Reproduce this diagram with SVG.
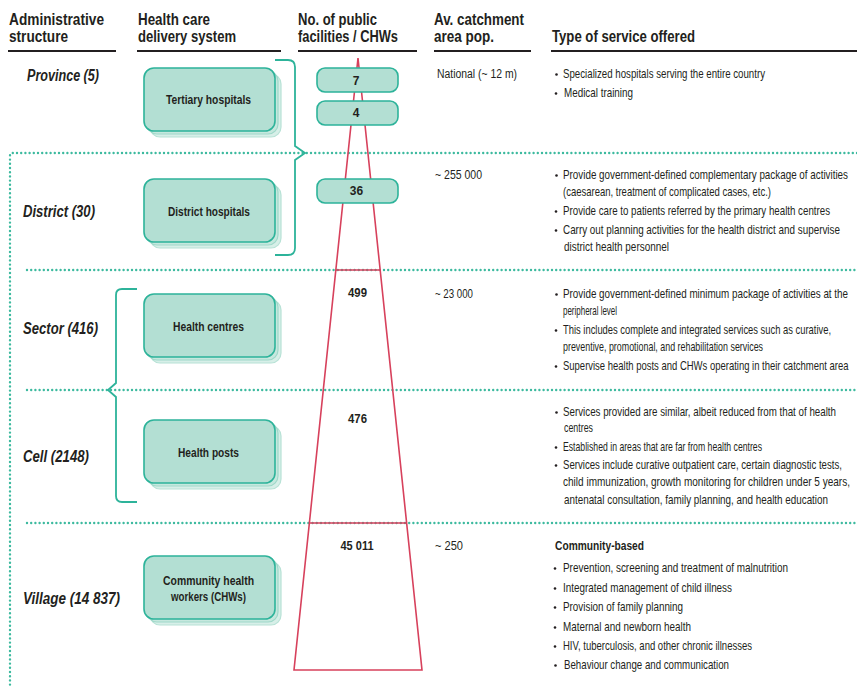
<svg xmlns="http://www.w3.org/2000/svg" width="857" height="686" viewBox="0 0 857 686">
<defs>
<style>
text{font-family:"Liberation Sans Narrow","Liberation Sans",Arial,sans-serif;fill:#231f20}
.h{font-size:16px;font-weight:bold}
.row{font-size:16px;font-weight:bold;font-style:italic}
.bl{font-size:12px;font-weight:bold;text-anchor:middle}
.num{font-size:12px;font-weight:bold;text-anchor:middle}
.t{font-size:12px}
.tb{font-size:12px;font-weight:bold}
.ul{stroke:#231f20;stroke-width:2.2}
.dot{fill:none;stroke:#3dba9f;stroke-width:2.4;stroke-dasharray:0 4.2;stroke-linecap:round}
.brace{fill:none;stroke:#2db39a;stroke-width:1.8}
.pyr{fill:none;stroke:#d7415c;stroke-width:1.6}
.s2{fill:#d7efe8;stroke:#b8e2d6;stroke-width:1.2}
.s1{fill:#c6e8de;stroke:#9fd8c9;stroke-width:1.2}
.box{fill:#b3dfd3;stroke:#2db39a;stroke-width:1.6}
.bul{fill:#231f20}
</style>
</defs>

<g id="headers">
<text class="h" x="9" y="25" textLength="95" lengthAdjust="spacingAndGlyphs">Administrative</text>
<text class="h" x="9" y="42" textLength="59" lengthAdjust="spacingAndGlyphs">structure</text>
<text class="h" x="138" y="25" textLength="72" lengthAdjust="spacingAndGlyphs">Health care</text>
<text class="h" x="138" y="42" textLength="98" lengthAdjust="spacingAndGlyphs">delivery system</text>
<text class="h" x="298" y="25" textLength="79" lengthAdjust="spacingAndGlyphs">No. of public</text>
<text class="h" x="298" y="42" textLength="100" lengthAdjust="spacingAndGlyphs">facilities / CHWs</text>
<text class="h" x="434" y="25" textLength="90" lengthAdjust="spacingAndGlyphs">Av. catchment</text>
<text class="h" x="434" y="42" textLength="60" lengthAdjust="spacingAndGlyphs">area pop.</text>
<text class="h" x="552" y="42" textLength="143" lengthAdjust="spacingAndGlyphs">Type of service offered</text>
<line class="ul" x1="8" y1="51" x2="116" y2="51"/>
<line class="ul" x1="137" y1="51" x2="281" y2="51"/>
<line class="ul" x1="298" y1="51" x2="417" y2="51"/>
<line class="ul" x1="434" y1="51" x2="531" y2="51"/>
<line class="ul" x1="551" y1="51" x2="857" y2="51"/>
</g>

<g id="dividers">
<path class="dot" d="M857,153 H12 Q10,153 10,156 V686"/>
<line class="dot" x1="27" y1="270" x2="857" y2="270"/>
<line class="dot" x1="27" y1="390" x2="857" y2="390"/>
<line class="dot" x1="27" y1="523" x2="857" y2="523"/>
</g>

<g id="row-labels">
<text class="row" x="27" y="81" textLength="72" lengthAdjust="spacingAndGlyphs">Province (5)</text>
<text class="row" x="23" y="217" textLength="72" lengthAdjust="spacingAndGlyphs">District (30)</text>
<text class="row" x="23" y="334" textLength="75" lengthAdjust="spacingAndGlyphs">Sector (416)</text>
<text class="row" x="23" y="462" textLength="66" lengthAdjust="spacingAndGlyphs">Cell (2148)</text>
<text class="row" x="23" y="604" textLength="97" lengthAdjust="spacingAndGlyphs">Village (14 837)</text>
</g>

<g id="connectors">
<path class="brace" d="M275,60 H288 Q295,60 295,67 V146 L305,153 L295,160 V248 Q295,255 288,255 H275"/>
<path class="brace" d="M137,289 H122 Q116,289 116,295 V383 L108,390 L116,397 V496 Q116,502 122,502 H137"/>
</g>

<g id="node-tertiary">
<rect class="s2" x="150" y="74" width="131" height="63" rx="10"/>
<rect class="s1" x="147" y="71" width="131" height="63" rx="10"/>
<rect class="box" x="144" y="68" width="131" height="63" rx="10"/>
<text class="bl" x="208.5" y="104" textLength="85" lengthAdjust="spacingAndGlyphs">Tertiary hospitals</text>
</g>
<g id="node-district">
<rect class="s2" x="150" y="185" width="131" height="63" rx="10"/>
<rect class="s1" x="147" y="182" width="131" height="63" rx="10"/>
<rect class="box" x="144" y="179" width="131" height="63" rx="10"/>
<text class="bl" x="209" y="216" textLength="82" lengthAdjust="spacingAndGlyphs">District hospitals</text>
</g>
<g id="node-centres">
<rect class="s2" x="150" y="300" width="131" height="63" rx="10"/>
<rect class="s1" x="147" y="297" width="131" height="63" rx="10"/>
<rect class="box" x="144" y="294" width="131" height="63" rx="10"/>
<text class="bl" x="208.5" y="331" textLength="71" lengthAdjust="spacingAndGlyphs">Health centres</text>
</g>
<g id="node-posts">
<rect class="s2" x="150" y="426" width="131" height="63" rx="10"/>
<rect class="s1" x="147" y="423" width="131" height="63" rx="10"/>
<rect class="box" x="144" y="420" width="131" height="63" rx="10"/>
<text class="bl" x="208.5" y="457" textLength="61" lengthAdjust="spacingAndGlyphs">Health posts</text>
</g>
<g id="node-chw">
<rect class="s2" x="150" y="562" width="131" height="63" rx="10"/>
<rect class="s1" x="147" y="559" width="131" height="63" rx="10"/>
<rect class="box" x="144" y="556" width="131" height="63" rx="10"/>
<text class="bl" x="208.5" y="585" textLength="91" lengthAdjust="spacingAndGlyphs">Community health</text>
<text class="bl" x="208.5" y="601" textLength="75" lengthAdjust="spacingAndGlyphs">workers (CHWs)</text>
</g>

<g id="pyramid">
<path class="pyr" d="M358,58 L294,670 H422 Z"/>
<line class="pyr" x1="335.8" y1="270" x2="380.2" y2="270"/>
<line class="pyr" x1="309.4" y1="523" x2="406.6" y2="523"/>
</g>

<g id="node-n7">
<rect class="box" x="317" y="68" width="81" height="24" rx="8"/>
<text class="num" x="356" y="85">7</text>
</g>
<g id="node-n4">
<rect class="box" x="317" y="101" width="81" height="24" rx="8"/>
<text class="num" x="356" y="117">4</text>
</g>
<g id="node-n36">
<rect class="box" x="317" y="179" width="81" height="24" rx="8"/>
<text class="num" x="356.5" y="195">36</text>
</g>
<g id="counts">
<text class="num" x="357.5" y="297" textLength="19" lengthAdjust="spacingAndGlyphs">499</text>
<text class="num" x="357.5" y="423" textLength="19" lengthAdjust="spacingAndGlyphs">476</text>
<text class="num" x="357" y="550" textLength="33" lengthAdjust="spacingAndGlyphs">45 011</text>
</g>

<g id="catchment">
<text class="t" x="437" y="78" textLength="80" lengthAdjust="spacingAndGlyphs">National (~ 12 m)</text>
<text class="t" x="435" y="179" textLength="47" lengthAdjust="spacingAndGlyphs">~ 255 000</text>
<text class="t" x="435" y="298" textLength="38" lengthAdjust="spacingAndGlyphs">~ 23 000</text>
<text class="t" x="435" y="550" textLength="28" lengthAdjust="spacingAndGlyphs">~ 250</text>
</g>

<g id="bullets">
<circle class="bul" cx="556.5" cy="74.5" r="1.3"/>
<circle class="bul" cx="556" cy="93.5" r="1.3"/>
<circle class="bul" cx="556.5" cy="175.5" r="1.3"/>
<circle class="bul" cx="556" cy="211.5" r="1.3"/>
<circle class="bul" cx="556" cy="230.5" r="1.3"/>
<circle class="bul" cx="556.5" cy="294.5" r="1.3"/>
<circle class="bul" cx="556" cy="330.5" r="1.3"/>
<circle class="bul" cx="556" cy="366.5" r="1.3"/>
<circle class="bul" cx="556.5" cy="412.5" r="1.3"/>
<circle class="bul" cx="556" cy="447.5" r="1.3"/>
<circle class="bul" cx="556" cy="465.5" r="1.3"/>
<circle class="bul" cx="555" cy="568.5" r="1.3"/>
<circle class="bul" cx="555" cy="588.5" r="1.3"/>
<circle class="bul" cx="555" cy="607.5" r="1.3"/>
<circle class="bul" cx="555" cy="627.5" r="1.3"/>
<circle class="bul" cx="555" cy="646.5" r="1.3"/>
<circle class="bul" cx="555.5" cy="665.5" r="1.3"/>
</g>

<g id="services" transform="translate(563,0) scale(0.83,1)">
<text class="t" x="0" y="78" textLength="243.4" lengthAdjust="spacingAndGlyphs">Specialized hospitals serving the entire country</text>
<text class="t" x="1.2" y="97" textLength="83.1" lengthAdjust="spacingAndGlyphs">Medical training</text>

<text class="t" x="0" y="179" textLength="343.4" lengthAdjust="spacingAndGlyphs">Provide government-defined complementary package of activities</text>
<text class="t" x="0" y="196" textLength="250.6" lengthAdjust="spacingAndGlyphs">(caesarean, treatment of complicated cases, etc.)</text>
<text class="t" x="0" y="215" textLength="321.7" lengthAdjust="spacingAndGlyphs">Provide care to patients referred by the primary health centres</text>
<text class="t" x="0" y="234" textLength="333.7" lengthAdjust="spacingAndGlyphs">Carry out planning activities for the health district and supervise</text>
<text class="t" x="1.2" y="251" textLength="126.5" lengthAdjust="spacingAndGlyphs">district health personnel</text>

<text class="t" x="0" y="298" textLength="343.4" lengthAdjust="spacingAndGlyphs">Provide government-defined minimum package of activities at the</text>
<text class="t" x="0" y="315" textLength="65.1" lengthAdjust="spacingAndGlyphs">peripheral level</text>
<text class="t" x="0" y="334" textLength="322.9" lengthAdjust="spacingAndGlyphs">This includes complete and integrated services such as curative,</text>
<text class="t" x="0" y="351" textLength="241" lengthAdjust="spacingAndGlyphs">preventive, promotional, and rehabilitation services</text>
<text class="t" x="0" y="370" transform="scale(0.95,1)" textLength="362" lengthAdjust="spacingAndGlyphs">Supervise health posts and CHWs operating in their catchment area</text>

<text class="t" x="0" y="416" textLength="328.9" lengthAdjust="spacingAndGlyphs">Services provided are similar, albeit reduced from that of health</text>
<text class="t" x="1.2" y="432" textLength="34.9" lengthAdjust="spacingAndGlyphs">centres</text>
<text class="t" x="0" y="451" textLength="239.8" lengthAdjust="spacingAndGlyphs">Established in areas that are far from health centres</text>
<text class="t" x="0" y="469" textLength="336.1" lengthAdjust="spacingAndGlyphs">Services include curative outpatient care, certain diagnostic tests,</text>
<text class="t" x="0" y="486" textLength="345.8" lengthAdjust="spacingAndGlyphs">child immunization, growth monitoring for children under 5 years,</text>
<text class="t" x="1.2" y="504" textLength="318.1" lengthAdjust="spacingAndGlyphs">antenatal consultation, family planning, and health education</text>

<text class="tb" x="-9.6" y="550" textLength="107.2" lengthAdjust="spacingAndGlyphs">Community-based</text>
<text class="t" x="0" y="572" textLength="271.1" lengthAdjust="spacingAndGlyphs">Prevention, screening and treatment of malnutrition</text>
<text class="t" x="0" y="592" textLength="203.6" lengthAdjust="spacingAndGlyphs">Integrated management of child illness</text>
<text class="t" x="0" y="611" textLength="144.6" lengthAdjust="spacingAndGlyphs">Provision of family planning</text>
<text class="t" x="0" y="631" textLength="154.2" lengthAdjust="spacingAndGlyphs">Maternal and newborn health</text>
<text class="t" x="0" y="650" textLength="227.7" lengthAdjust="spacingAndGlyphs">HIV, tuberculosis, and other chronic illnesses</text>
<text class="t" x="1.2" y="669" textLength="198.8" lengthAdjust="spacingAndGlyphs">Behaviour change and communication</text>
</g>
</svg>
